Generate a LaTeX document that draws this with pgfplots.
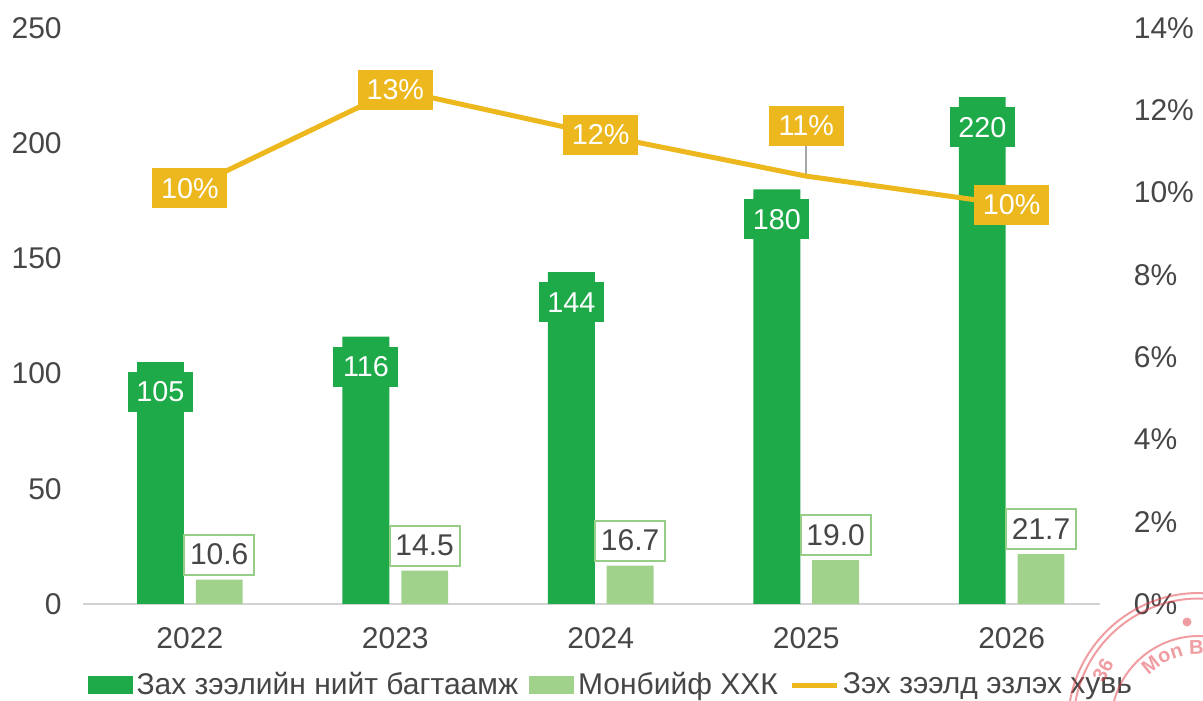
\documentclass[border=0pt]{standalone}
\usepackage{pgfplots}
\pgfplotsset{compat=1.18}
\usepackage{pgfplotstable}
\usepackage{fontspec}
\setmainfont{Liberation Sans}
\usetikzlibrary{decorations.text}

\definecolor{dkgreen}{RGB}{30,170,72}
\definecolor{ltgreen}{RGB}{160,210,140}
\definecolor{ltborder}{RGB}{150,205,135}
\definecolor{gold}{RGB}{236,184,30}
\definecolor{txtgray}{RGB}{70,70,70}
\definecolor{stamp}{RGB}{225,60,70}

% market size and MonBeef volume
\pgfplotstableread{
x total monbeef
0 105 10.6
1 116 14.5
2 144 16.7
3 180 19.0
4 220 21.7
}\bars

% market share (%), label text
\pgfplotstableread{
x share lbl
0 10.1 10
1 12.5 13
2 11.4 12
3 10.4 11
4 9.7 10
}\share

\pgfplotsset{
  base/.style={
    scale only axis, width=406.8pt, height=230.4pt,
    at={(33.2pt,38.8pt)}, anchor=south west,
    xmin=-0.52, xmax=4.43, clip=false,
    axis line style={draw=none},
    tick style={draw=none},
    tick label style={font=\fontsize{12}{14}\selectfont, text=txtgray},
    /pgf/number format/assume math mode=true,
  },
  barlegend/.style={legend image code/.code={\fill[##1] (0pt,-3.5pt) rectangle (18pt,3.5pt);}},
  linelegend/.style={legend image code/.code={\draw[##1] (0pt,0pt) -- (18pt,0pt);}},
  sharelbl/.style={draw=none, mark=none, point meta=explicit symbolic,
    nodes near coords={\pgfplotspointmeta\%},
    nodes near coords style={anchor=center, fill=gold, text=white,
      font=\fontsize{11.5}{13}\selectfont, minimum width=30pt, minimum height=16pt, inner sep=1pt}},
}

\begin{document}
\begin{tikzpicture}
\useasboundingbox (0,0) rectangle (481.2pt,280.4pt);

\begin{axis}[base,
  ymin=0, ymax=250, ytick={0,50,...,250},
  xtick={0,...,4}, xticklabels={2022,2023,2024,2025,2026},
  xticklabel style={yshift=-6pt},
  yticklabel style={xshift=-5pt},
  extra y ticks={0}, extra y tick labels={},
  extra y tick style={grid=major, major grid style={draw=gray!35, line width=0.6pt}},
  legend style={at={(0.52,-0.141)}, anchor=center, draw=none, fill=none,
    legend columns=-1, font=\fontsize{12}{14}\selectfont, text=txtgray,
    inner sep=0pt, nodes={inner xsep=1.5pt},
    /tikz/every even column/.append style={column sep=3pt}},
]
\addplot[ybar, bar width=0.228, bar shift=-0.143, fill=dkgreen, draw=none, barlegend,
  nodes near coords,
  nodes near coords style={anchor=center, xshift=-11.75pt, yshift=-12pt, fill=dkgreen, text=white,
    font=\fontsize{11.5}{13}\selectfont, minimum width=26pt, minimum height=16pt, inner sep=1pt}]
  table[x=x, y=total]{\bars};
\addlegendentry{Зах зээлийн нийт багтаамж}

\addplot[ybar, bar width=0.228, bar shift=0.143, fill=ltgreen, draw=none, barlegend,
  nodes near coords={\pgfmathprintnumber[fixed,fixed zerofill,precision=1]{\pgfplotspointmeta}},
  nodes near coords style={anchor=center, xshift=11.75pt, yshift=10pt, fill=white, draw=ltborder, line width=0.8pt,
    text=txtgray, font=\fontsize{12}{14}\selectfont, minimum width=28pt, minimum height=16pt, inner sep=1pt}]
  table[x=x, y=monbeef]{\bars};
\addlegendentry{Монбийф ХХК}

\addlegendimage{gold, line width=2pt, linelegend}
\addlegendentry{Зэх зээлд эзлэх хувь}
\end{axis}

\begin{axis}[base,
  ymin=0, ymax=14, ytick={0,2,...,14},
  yticklabel={\pgfmathprintnumber{\tick}\%},
  yticklabel pos=right,
  yticklabel style={xshift=10pt},
  xtick=\empty,
]
\addplot[gray!70, line width=0.6pt] coordinates {(3,10.4) (3,11.13)};
\addplot[gold, line width=2pt, mark=none] table[x=x, y=share]{\share};
% labels on the points, the 2025 one lifted above the line
\addplot[sharelbl, skip coords between index={3}{4}] table[x=x, y=share, meta=lbl]{\share};
\addplot[sharelbl, skip coords between index={0}{3}, skip coords between index={4}{5},
  nodes near coords style={yshift=20pt}] table[x=x, y=share, meta=lbl]{\share};
\end{axis}

% seal stamp in the corner
\begin{scope}
\clip (0,0) rectangle (481.2pt,280.4pt);
\begin{scope}[draw=stamp, opacity=0.5, line width=0.8pt]
\draw (479.6pt,-9.2pt) circle (52.4pt);
\draw (479.6pt,-9.2pt) circle (50.2pt);
\draw (479.6pt,-9.2pt) circle (35.2pt);
\node[text=stamp, font=\bfseries\fontsize{8}{8}\selectfont, rotate=60] at (441.2pt,12.4pt) {36};
\path[decorate, decoration={text along path, text align=left,
  text={|\bfseries\fontsize{8}{8}\selectfont\color{stamp}|Mon Beef}}]
  ([shift={(136:28pt)}]479.6pt,-9.2pt) arc (136:30:28pt);
\fill[stamp] (474.8pt,31.6pt) circle (1.8pt);
\end{scope}
\end{scope}
\end{tikzpicture}
\end{document}
